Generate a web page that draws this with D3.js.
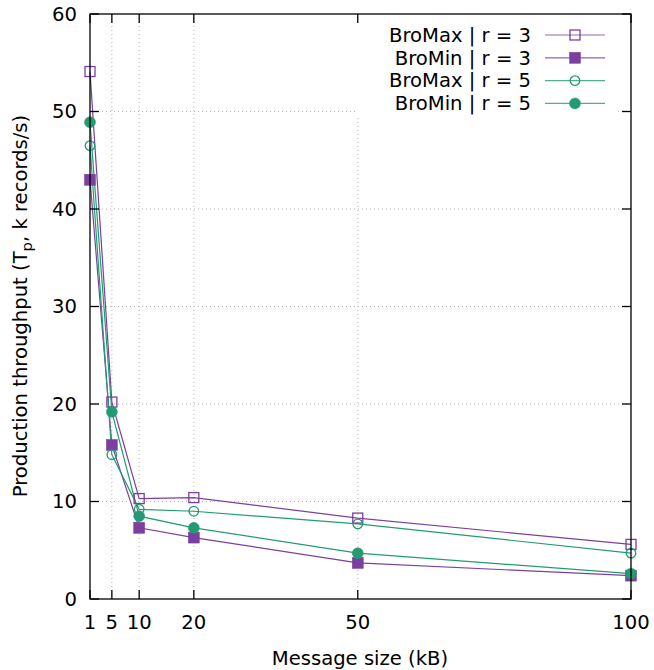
<!DOCTYPE html>
<html>
<head>
<meta charset="utf-8">
<script src="https://cdn.jsdelivr.net/npm/d3@7"></script>
<style>
  html, body { margin: 0; padding: 0; background: #fff; }
  svg text { font-family: "DejaVu Sans", sans-serif; fill: #000; }
</style>
</head>
<body>
<svg id="chart" width="654" height="670"></svg>
<script>
// Message sizes (kB) on the x axis
const messageSizes = [1, 5, 10, 20, 50, 100];
const xTicks = [1, 5, 10, 20, 50, 100];
const yTicks = [0, 10, 20, 30, 40, 50, 60];

// Production throughput, k records/s
const broMaxR3 = [54.1, 20.2, 10.3, 10.4, 8.3, 5.6];
const broMinR3 = [43.0, 15.8, 7.3, 6.3, 3.7, 2.4];
const broMaxR5 = [46.5, 14.8, 9.2, 9.0, 7.7, 4.7];
const broMinR5 = [48.9, 19.2, 8.5, 7.3, 4.7, 2.6];

const seriesNames = ["BroMax | r = 3", "BroMin | r = 3", "BroMax | r = 5", "BroMin | r = 5"];

const purple = "#7b3f9f";
const green = "#239b72";

const series = [
  { name: seriesNames[0], values: broMaxR3, color: purple, shape: "square", filled: false },
  { name: seriesNames[1], values: broMinR3, color: purple, shape: "square", filled: true },
  { name: seriesNames[2], values: broMaxR5, color: green, shape: "circle", filled: false },
  { name: seriesNames[3], values: broMinR5, color: green, shape: "circle", filled: true }
];

const svg = d3.select("#chart");
const plotL = 90, plotR = 631, plotT = 14, plotB = 599;

const x = d3.scaleLinear().domain([1, 100]).range([plotL, plotR]);
const y = d3.scaleLinear().domain([0, 60]).range([plotB, plotT]);

const fontSize = 19.6;
const tickLen = 9;

// Dotted grid
const grid = svg.append("g").attr("stroke", "#b4b4b4").attr("stroke-width", 1)
  .attr("stroke-dasharray", "1,3");
xTicks.filter(v => v > 1 && v < 100).forEach(v => {
  grid.append("line").attr("x1", x(v)).attr("x2", x(v)).attr("y1", plotB).attr("y2", plotT);
});
yTicks.filter(v => v > 0 && v < 60).forEach(v => {
  grid.append("line").attr("x1", plotL).attr("x2", plotR).attr("y1", y(v)).attr("y2", y(v));
});

// Key area is blanked out
const keyRows = [35, 57.8, 80.6, 103.4];
svg.append("rect").attr("x", 355).attr("y", plotT + 1).attr("width", 263).attr("height", 100)
  .attr("fill", "#fff");

// Series lines
const line = d3.line().x((d, i) => x(messageSizes[i])).y(d => y(d));
series.forEach(s => {
  svg.append("path").datum(s.values)
    .attr("d", line)
    .attr("fill", "none")
    .attr("stroke", s.color)
    .attr("stroke-width", 1.2);
});

function drawMarker(g, shape, filled, color, cx, cy) {
  if (shape === "square") {
    const h = filled ? 5.5 : 5;
    g.append("rect").attr("x", cx - h).attr("y", cy - h).attr("width", 2 * h).attr("height", 2 * h)
      .attr("fill", filled ? color : "none")
      .attr("stroke", color).attr("stroke-width", filled ? 0.5 : 1.3);
  } else {
    g.append("circle").attr("cx", cx).attr("cy", cy).attr("r", filled ? 5.5 : 4.8)
      .attr("fill", filled ? color : "none")
      .attr("stroke", color).attr("stroke-width", filled ? 0.5 : 1.3);
  }
}

series.forEach(s => {
  const g = svg.append("g");
  s.values.forEach((v, i) => drawMarker(g, s.shape, s.filled, s.color, x(messageSizes[i]), y(v)));
});

// Key entries
series.forEach((s, i) => {
  const cy = keyRows[i];
  svg.append("text").attr("x", 531).attr("y", cy).attr("dy", "0.35em")
    .attr("text-anchor", "end").attr("font-size", fontSize).text(s.name);
  svg.append("line").attr("x1", 545).attr("x2", 605).attr("y1", cy).attr("y2", cy)
    .attr("stroke", s.color).attr("stroke-width", 1.2).attr("stroke-opacity", 0.8);
  drawMarker(svg.append("g"), s.shape, s.filled, s.color, 575, cy);
});

// Border and mirrored inward ticks
const axes = svg.append("g").attr("stroke", "#000").attr("stroke-width", 1.3);
axes.append("rect").attr("x", plotL).attr("y", plotT).attr("width", plotR - plotL).attr("height", plotB - plotT)
  .attr("fill", "none");
xTicks.forEach(v => {
  axes.append("line").attr("x1", x(v)).attr("x2", x(v)).attr("y1", plotB).attr("y2", plotB - tickLen);
  axes.append("line").attr("x1", x(v)).attr("x2", x(v)).attr("y1", plotT).attr("y2", plotT + tickLen);
});
yTicks.forEach(v => {
  axes.append("line").attr("x1", plotL).attr("x2", plotL + tickLen).attr("y1", y(v)).attr("y2", y(v));
  axes.append("line").attr("x1", plotR).attr("x2", plotR - tickLen).attr("y1", y(v)).attr("y2", y(v));
});

// Tick labels
xTicks.forEach(v => {
  svg.append("text").attr("x", x(v)).attr("y", 622).attr("dy", "0.35em")
    .attr("text-anchor", "middle").attr("font-size", fontSize).text(v);
});
yTicks.forEach(v => {
  svg.append("text").attr("x", 77).attr("y", y(v)).attr("dy", "0.35em")
    .attr("text-anchor", "end").attr("font-size", fontSize).text(v);
});

// Axis titles
svg.append("text").attr("x", 360).attr("y", 658).attr("dy", "0.35em")
  .attr("text-anchor", "middle").attr("font-size", fontSize).text("Message size (kB)");

const yTitle = svg.append("text")
  .attr("transform", "translate(20,306) rotate(-90)")
  .attr("dy", "0.35em")
  .attr("text-anchor", "middle").attr("font-size", fontSize);
yTitle.append("tspan").text("Production throughput (T");
yTitle.append("tspan").attr("font-size", fontSize * 0.75).attr("dy", "0.35em").text("p");
yTitle.append("tspan").attr("dy", "-0.26em").text(", k records/s)");
</script>
</body>
</html>
